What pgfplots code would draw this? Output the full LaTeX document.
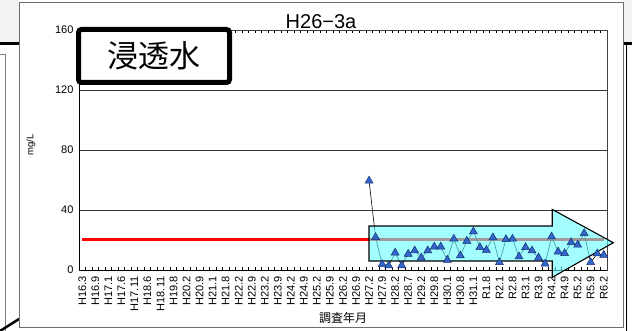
\documentclass[border=0pt]{standalone}
\usepackage{pgfplots}
\pgfplotsset{compat=1.18}
\usepackage{fontspec}
\setmainfont{Liberation Sans}
\newfontfamily\jp{Noto Sans CJK JP}

\definecolor{markblue}{RGB}{51,102,204}
\definecolor{markedge}{RGB}{20,45,110}
\definecolor{arrowcyan}{RGB}{102,255,255}
\definecolor{framegray}{RGB}{110,110,110}

\begin{document}
\begin{tikzpicture}
\path[use as bounding box] (0,0) rectangle (632pt,-331pt);
% surroundings of the screenshot
\fill[gray!10] (0,0) rectangle (19pt,-43pt);
\fill[gray!10] (623pt,0) rectangle (632pt,-43pt);
\draw[line width=3pt] (0,-43.5pt) -- (19pt,-43.5pt);
\draw[line width=3pt] (623pt,-43.5pt) -- (632pt,-43.5pt);
\draw[gray, line width=1pt] (0,-55pt) -- (5pt,-55pt) -- (5pt,-331pt);
\draw[line width=2.5pt] (0,-331pt) -- (19pt,-319pt);
\draw[line width=1.2pt] (626.5pt,-43pt) -- (626.5pt,-331pt);
% chart area
\draw[framegray, fill=white, line width=0.8pt] (19.5pt,-2pt) rectangle (623pt,-327pt);

\begin{axis}[
    at={(79pt,-270pt)}, anchor=south west,
    width=528pt, height=240pt, scale only axis,
    xmin=-0.5, xmax=80.5,
    ymin=0, ymax=160,
    clip=false,
    axis line style={draw=black!75, line width=0.8pt},
    ytick={0,40,80,120,160},
    ymajorgrids=true,
    grid style={black!80, line width=0.6pt},
    ytick style={draw=none},
    /pgf/number format/assume math mode=true,
    yticklabel style={font=\fontsize{11}{13}\selectfont, xshift=-2pt},
    xtick={0,2,...,80},
    xticklabels={H16.3,H16.9,H17.1,H17.6,H17.11,H18.6,H18.11,H19.8,H20.2,H20.9,H21.1,H21.8,H22.2,H22.9,H23.2,H23.9,H24.2,H24.9,H25.2,H25.9,H26.2,H26.9,H27.2,H27.9,H28.2,H28.7,H29.2,H29.8,H30.1,H30.8,H31.1,R1.8,R2.1,R2.8,R3.1,R3.9,R4.2,R4.9,R5.2,R5.9,R6.2},
    x tick label style={font=\fontsize{11}{13}\selectfont, rotate=90, anchor=east},
    xticklabel shift=3pt,
    major x tick style={draw=none},
    minor xtick={-0.5,0.5,...,80.5},
    minor tick length=3pt,
    minor x tick style={black, line width=0.6pt},
    tick align=inside,
]
\addplot[red, line width=3pt] coordinates {(0,20) (80,20)};
\addplot[black, line width=0.6pt, mark=triangle*, mark size=4.6pt,
    mark options={fill=markblue, draw=markedge, line width=0.5pt}] coordinates {
    (44,59.5) (45,21.8) (46,3.8) (47,2.9) (48,11.5) (49,3) (50,10.7) (51,12.9)
    (52,8.2) (53,12.9) (54,15.5) (55,15.5) (56,6.7) (57,20.7) (58,9.6) (59,19.3)
    (60,25.6) (61,15.1) (62,13.3) (63,21.6) (64,5.1) (65,20.4) (66,20.7) (67,8.9)
    (68,15.1) (69,12.9) (70,8.2) (71,4.2) (72,22.2) (73,12.2) (74,11.1) (75,18.4)
    (76,16.7) (77,24.4) (78,5.1) (79,10.9) (80,10)
};
% black axis lines on left and bottom
\draw[black, line width=0.9pt] (rel axis cs:0,1) -- (rel axis cs:0,0) -- (rel axis cs:1,0);
% translucent trend arrow
\draw[fill=arrowcyan, fill opacity=0.6, draw=black, line width=1.1pt]
    (axis cs:43.99,6) -- (axis cs:72.1,6) -- (axis cs:72.1,-4.9) -- (axis cs:81.47,18.2)
    -- (axis cs:72.1,40.4) -- (axis cs:72.1,29.3) -- (axis cs:43.99,29.3) -- cycle;
\end{axis}

\node[anchor=base] at (321pt,-29pt) {\fontsize{20}{24}\selectfont H26−3a};
\node[rotate=90] at (31pt,-145pt) {\fontsize{9.5}{11}\selectfont mg/L};
\node at (343pt,-318pt) {\jp\fontsize{12}{14}\selectfont 調査年月};
\node[draw=black, line width=5pt, rounded corners=3pt, fill=white,
    minimum width=151pt, minimum height=53pt, inner sep=0pt]
    at (154pt,-56pt) {\jp\fontsize{31}{34}\selectfont 浸透水};
\end{tikzpicture}
\end{document}
